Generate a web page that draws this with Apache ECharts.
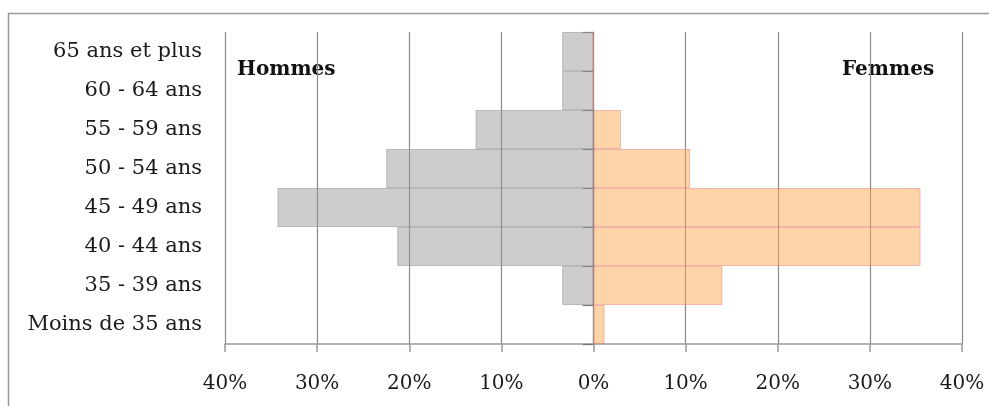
<!DOCTYPE html>
<html>
<head>
<meta charset="utf-8">
<script src="https://cdn.jsdelivr.net/npm/echarts@6/dist/echarts.min.js"></script>
<style>
html,body{margin:0;padding:0;background:#fff;}
#c{width:989px;height:406px;}
</style>
</head>
<body>
<div id="c"></div>
<script>
var categories = ['65 ans et plus','60 - 64 ans','55 - 59 ans','50 - 54 ans','45 - 49 ans','40 - 44 ans','35 - 39 ans','Moins de 35 ans'];
var hommes = [3.4, 3.4, 12.8, 22.5, 34.3, 21.3, 3.4, 0];
var femmes = [0, 0, 3.0, 10.5, 35.5, 35.5, 14.0, 1.2];
var xMin = -40, xMax = 40, xStep = 10;
var labelHommes = 'Hommes', labelFemmes = 'Femmes';

var FONT = 'DejaVu Serif';
var chart = echarts.init(document.getElementById('c'), null, {renderer:'canvas'});
chart.setOption({
  animation:false,
  backgroundColor:'#fff',
  grid:{left:225, right:27, top:32, bottom:62},
  xAxis:{
    type:'value', min:xMin, max:xMax, interval:xStep,
    axisLine:{show:true, onZero:false, lineStyle:{color:'#999', width:1.5}},
    axisTick:{show:true, length:8, lineStyle:{color:'#999', width:1.5}},
    splitLine:{show:true, lineStyle:{color:'#8a8a8a', width:1.2}},
    axisLabel:{fontFamily:FONT, fontSize:20, color:'#1a1a1a', margin:30,
      formatter:function(v){return Math.abs(v)+'%';}}
  },
  yAxis:[{
    type:'category', data:categories, inverse:true, position:'left',
    axisLine:{show:false, onZero:false},
    axisTick:{show:false},
    axisLabel:{fontFamily:FONT, fontSize:21, color:'#1a1a1a', margin:23}
  },{
    type:'category', data:categories, inverse:true, position:'left',
    axisLine:{show:true, onZero:true, lineStyle:{color:'#888', width:1.2}},
    axisTick:{show:true, length:11, lineStyle:{color:'#777', width:1.2}},
    axisLabel:{show:false}
  }],
  series:[{
    type:'bar', name:labelHommes, yAxisIndex:0,
    data:hommes.map(function(v){return -v;}),
    barCategoryGap:0, barGap:'-100%',
    itemStyle:{color:'rgba(158,154,156,0.5)', borderColor:'rgba(140,138,139,0.5)', borderWidth:1}
  },{
    type:'bar', name:labelFemmes, yAxisIndex:0,
    data:femmes,
    barCategoryGap:0, barGap:'-100%',
    itemStyle:{color:'rgba(252,170,80,0.5)', borderColor:'rgba(235,120,120,0.45)', borderWidth:1}
  }],
  graphic:[
    {type:'rect', left:6, top:11, shape:{width:1100, height:500}, style:{fill:null, stroke:'#9a9a9a', lineWidth:1.5}, silent:true},
    {type:'text', left:237, top:60, style:{text:labelHommes, font:'bold 20px "DejaVu Serif"', fill:'#111'}},
    {type:'text', left:842, top:60, style:{text:labelFemmes, font:'bold 20px "DejaVu Serif"', fill:'#111'}}
  ]
});
</script>
</body>
</html>
